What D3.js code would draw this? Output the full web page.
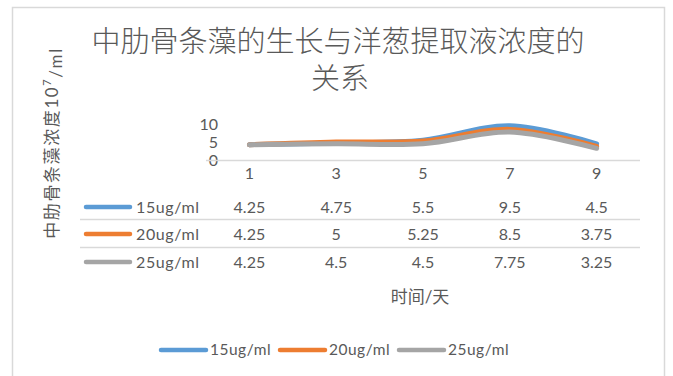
<!DOCTYPE html>
<html>
<head>
<meta charset="utf-8">
<script src="https://cdn.jsdelivr.net/npm/d3@7"></script>
<style>
  html, body { margin: 0; padding: 0; background: #fff; }
  svg { display: block; }
  text { font-family: "Lato", "Noto Sans CJK SC", sans-serif; fill: #595959; }
</style>
</head>
<body>
<svg id="chart" width="673" height="376"></svg>
<script>
// Sampling days (category axis)
const days = ["1", "3", "5", "7", "9"];
// Algae concentration per concentration of onion extract
const seriesNames = ["15ug/ml", "20ug/ml", "25ug/ml"];
const values15 = [4.25, 4.75, 5.5, 9.5, 4.5];
const values20 = [4.25, 5, 5.25, 8.5, 3.75];
const values25 = [4.25, 4.5, 4.5, 7.75, 3.25];
const yTicks = [0, 5, 10];
const colors = ["#5b9bd5", "#ed7d31", "#a5a5a5"];

const series = [values15, values20, values25].map((v, i) => ({
  name: seriesNames[i], values: v, color: colors[i]
}));

const svg = d3.select("#chart");

// chart frame
svg.append("rect")
  .attr("x", 12.5).attr("y", 7.5)
  .attr("width", 652).attr("height", 400)
  .attr("fill", "#fff").attr("stroke", "#d9d9d9").attr("stroke-width", 1.5);

// title
const title = svg.append("text")
  .attr("text-anchor", "middle")
  .attr("font-size", 29)
  .attr("font-weight", 300);
title.append("tspan").attr("x", 338).attr("y", 52).text("中肋骨条藻的生长与洋葱提取液浓度的");
title.append("tspan").attr("x", 340).attr("y", 89).text("关系");

// scales
const x = d3.scaleBand().domain(days).range([206, 640]);
const y = d3.scaleLinear().domain([0, 10]).range([160, 124]);

// y axis labels
const yAxis = svg.append("g").attr("transform", "translate(218,0)")
  .call(d3.axisLeft(y).tickValues(yTicks).tickSize(0).tickPadding(0));
yAxis.select(".domain").remove();
yAxis.selectAll("text").attr("font-size", 16).attr("fill", "#595959")
  .style("font-family", "Lato, 'Noto Sans CJK SC', sans-serif");

// baseline
svg.append("line")
  .attr("x1", 206).attr("x2", 640)
  .attr("y1", y(0) + 0.5).attr("y2", y(0) + 0.5)
  .attr("stroke", "#d9d9d9").attr("stroke-width", 1.3);

// category labels
const xAxis = svg.append("g").attr("transform", "translate(0,168)")
  .call(d3.axisBottom(x).tickSize(0).tickPadding(0));
xAxis.select(".domain").remove();
xAxis.selectAll("text").attr("font-size", 16).attr("fill", "#595959").attr("dy", "0.71em")
  .style("font-family", "Lato, 'Noto Sans CJK SC', sans-serif");

// smoothed lines
const line = d3.line()
  .x((d, i) => x(days[i]) + x.bandwidth() / 2)
  .y(d => y(d))
  .curve(d3.curveCatmullRom.alpha(0.5));

svg.append("g").selectAll("path").data(series).join("path")
  .attr("d", d => line(d.values))
  .attr("fill", "none")
  .attr("stroke", d => d.color)
  .attr("stroke-width", 5)
  .attr("stroke-linecap", "round")
  .attr("stroke-linejoin", "round");

// data table
const rowY = [207, 234, 262];
const table = svg.append("g");
[219, 247].forEach(yy => {
  table.append("line").attr("x1", 80).attr("x2", 640)
    .attr("y1", yy + 0.5).attr("y2", yy + 0.5)
    .attr("stroke", "#d9d9d9").attr("stroke-width", 1.3);
});
series.forEach((s, i) => {
  const ry = rowY[i];
  table.append("line").attr("x1", 86).attr("x2", 130)
    .attr("y1", ry).attr("y2", ry)
    .attr("stroke", s.color).attr("stroke-width", 4.5).attr("stroke-linecap", "round");
  table.append("text").attr("x", 136).attr("y", ry).attr("dy", "0.35em")
    .attr("font-size", 16).attr("letter-spacing", 0.6).text(s.name);
  s.values.forEach((v, j) => {
    table.append("text")
      .attr("x", x(days[j]) + x.bandwidth() / 2).attr("y", ry).attr("dy", "0.35em")
      .attr("text-anchor", "middle").attr("font-size", 16)
      .text(v);
  });
});

// axis titles
svg.append("text")
  .attr("x", 420).attr("y", 297).attr("dy", "0.35em")
  .attr("text-anchor", "middle").attr("font-size", 17)
  .text("时间/天");

const yTitle = svg.append("text")
  .attr("transform", "translate(52,143) rotate(-90)")
  .attr("text-anchor", "middle").attr("dy", "0.35em")
  .attr("font-size", 17).attr("letter-spacing", 1.6);
yTitle.append("tspan").text("中肋骨条藻浓度10");
yTitle.append("tspan").attr("font-size", 11).attr("dy", "-0.6em").text("7");
yTitle.append("tspan").attr("dy", "0.6em").text("/ml");

// legend
const legend = svg.append("g");
const legendX = [161, 280, 399];
series.forEach((s, i) => {
  legend.append("line").attr("x1", legendX[i]).attr("x2", legendX[i] + 45)
    .attr("y1", 350).attr("y2", 350)
    .attr("stroke", s.color).attr("stroke-width", 4.5).attr("stroke-linecap", "round");
  legend.append("text").attr("x", legendX[i] + 49).attr("y", 350).attr("dy", "0.35em")
    .attr("font-size", 15.5).attr("letter-spacing", 0.5).text(s.name);
});
</script>
</body>
</html>
